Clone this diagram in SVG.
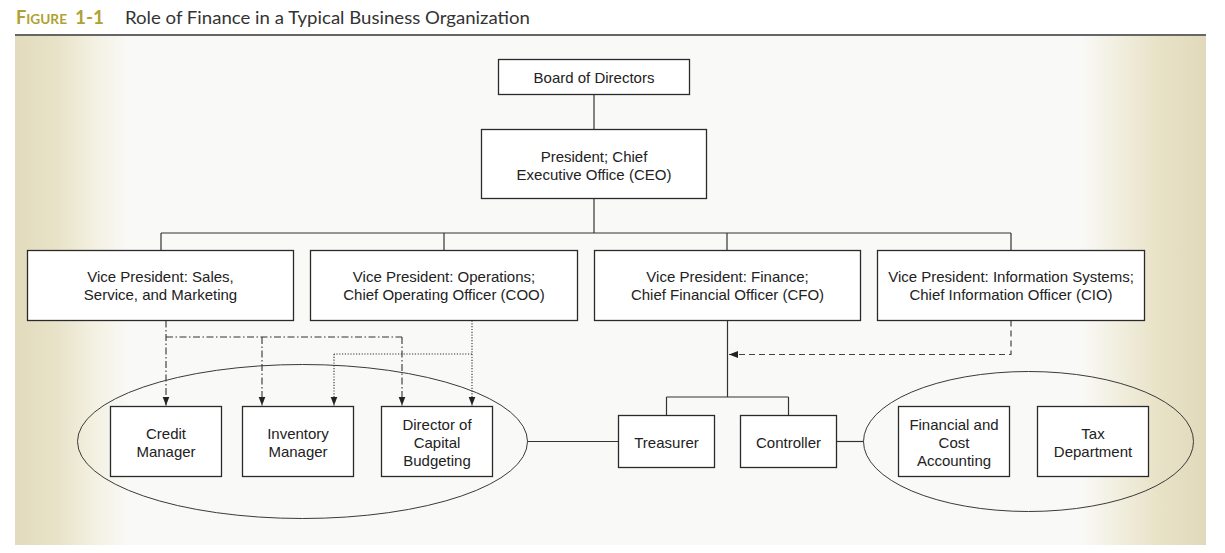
<svg xmlns="http://www.w3.org/2000/svg" width="1225" height="553" viewBox="0 0 1225 553">
  <defs>
    <linearGradient id="bg" x1="15" y1="0" x2="1206" y2="0" gradientUnits="userSpaceOnUse">
      <stop offset="0" stop-color="#e2dbbd"/>
      <stop offset="0.035" stop-color="#e8e2c8"/>
      <stop offset="0.065" stop-color="#f3f0e0"/>
      <stop offset="0.095" stop-color="#f9f9f7"/>
      <stop offset="0.895" stop-color="#f9f9f7"/>
      <stop offset="0.925" stop-color="#f2efe0"/>
      <stop offset="0.96" stop-color="#e8e2c7"/>
      <stop offset="1" stop-color="#e1d9bb"/>
    </linearGradient>
    <marker id="arr" markerUnits="userSpaceOnUse" markerWidth="10" markerHeight="8" refX="9" refY="3.5" orient="auto">
      <path d="M0,0 L9,3.5 L0,7 z" fill="#222"/>
    </marker>
    <style>
      .box { fill: #ffffff; stroke: #2a2a2a; stroke-width: 1.3; }
      .ell { fill: none; stroke: #3a3a3a; stroke-width: 1; }
      .lbl { font-family: "Liberation Sans", Arial, sans-serif; font-size: 15px; fill: #222; text-anchor: middle; }
      .solid { fill: none; stroke: #333; stroke-width: 1.2; }
      .dashdot { fill: none; stroke: #333; stroke-width: 1.1; stroke-dasharray: 7 2.5 1.5 2.5; }
      .dotted { fill: none; stroke: #333; stroke-width: 1.1; stroke-dasharray: 1.2 1.6; }
      .dashed { fill: none; stroke: #444; stroke-width: 1.2; stroke-dasharray: 6 4; }
      .fig { font-family: Lato, "Open Sans", sans-serif; font-weight: bold; fill: #b0a134; }
      .title { font-family: Lato, "Open Sans", sans-serif; font-size: 17px; fill: #333; }
    </style>
  </defs>

  <rect x="0" y="0" width="1225" height="553" fill="#ffffff"/>
  <rect x="15" y="36" width="1191" height="509" fill="url(#bg)"/>
  <line x1="15" y1="35" x2="1206" y2="35" stroke="#333" stroke-width="1.6"/>

  <g id="title">
    <text x="16" y="24" class="fig" textLength="51" lengthAdjust="spacingAndGlyphs"><tspan font-size="18px">F</tspan><tspan font-size="13.5px">IGURE</tspan></text>
    <text x="75" y="24" class="fig" font-size="18.5px" textLength="29" lengthAdjust="spacingAndGlyphs">1-1</text>
    <text x="125" y="24" class="title" textLength="405" lengthAdjust="spacingAndGlyphs">Role of Finance in a Typical Business Organization</text>
  </g>

  <g id="connectors">
    <line class="solid" x1="594" y1="94.5" x2="594" y2="129.5"/>
    <line class="solid" x1="594" y1="198.5" x2="594" y2="233"/>
    <line class="solid" x1="161" y1="233" x2="1011" y2="233"/>
    <line class="solid" x1="161" y1="233" x2="161" y2="250.5"/>
    <line class="solid" x1="444" y1="233" x2="444" y2="250.5"/>
    <line class="solid" x1="727" y1="233" x2="727" y2="250.5"/>
    <line class="solid" x1="1011" y1="233" x2="1011" y2="250.5"/>

    <line class="dashdot" x1="166" y1="320.5" x2="166" y2="405.5" marker-end="url(#arr)"/>
    <line class="dashdot" x1="166" y1="337" x2="402" y2="337"/>
    <line class="dashdot" x1="262" y1="337" x2="262" y2="405.5" marker-end="url(#arr)"/>
    <line class="dashdot" x1="402" y1="337" x2="402" y2="405.5" marker-end="url(#arr)"/>

    <line class="dotted" x1="472" y1="320.5" x2="472" y2="405.5" marker-end="url(#arr)"/>
    <line class="dotted" x1="472" y1="354" x2="334" y2="354"/>
    <line class="dotted" x1="334" y1="354" x2="334" y2="405.5" marker-end="url(#arr)"/>

    <line class="solid" x1="727.5" y1="320.5" x2="727.5" y2="397"/>
    <line class="solid" x1="666.5" y1="397" x2="788.5" y2="397"/>
    <line class="solid" x1="666.5" y1="397" x2="666.5" y2="415.5"/>
    <line class="solid" x1="788.5" y1="397" x2="788.5" y2="415.5"/>

    <polyline class="dashed" points="1011,320.5 1011,354.5 729,354.5" marker-end="url(#arr)"/>

    <line class="solid" x1="527.5" y1="441.5" x2="618.5" y2="441.5"/>
    <line class="solid" x1="836.5" y1="441.5" x2="863.5" y2="441.5"/>
  </g>

  <g id="group-left">
    <ellipse class="ell" cx="302.5" cy="441.5" rx="225" ry="77"/>
  </g>
  <g id="group-right">
    <ellipse class="ell" cx="1028.5" cy="441.5" rx="165" ry="70"/>
  </g>

  <g id="board">
    <rect class="box" x="498.5" y="59.5" width="191" height="35"/>
    <text class="lbl" x="594" y="82.5">Board of Directors</text>
  </g>
  <g id="ceo">
    <rect class="box" x="481.5" y="129.5" width="225" height="69"/>
    <text class="lbl" x="594" y="161.5">President; Chief</text>
    <text class="lbl" x="594" y="179.5">Executive Office (CEO)</text>
  </g>
  <g id="vp-sales">
    <rect class="box" x="27.5" y="250.5" width="266" height="70"/>
    <text class="lbl" x="160.5" y="282">Vice President: Sales,</text>
    <text class="lbl" x="160.5" y="300">Service, and Marketing</text>
  </g>
  <g id="vp-ops">
    <rect class="box" x="310.5" y="250.5" width="267" height="70"/>
    <text class="lbl" x="444" y="282">Vice President: Operations;</text>
    <text class="lbl" x="444" y="300">Chief Operating Officer (COO)</text>
  </g>
  <g id="vp-fin">
    <rect class="box" x="594.5" y="250.5" width="266" height="70"/>
    <text class="lbl" x="727.5" y="282">Vice President: Finance;</text>
    <text class="lbl" x="727.5" y="300">Chief Financial Officer (CFO)</text>
  </g>
  <g id="vp-is">
    <rect class="box" x="877.5" y="250.5" width="267" height="70"/>
    <text class="lbl" x="1011" y="282">Vice President: Information Systems;</text>
    <text class="lbl" x="1011" y="300">Chief Information Officer (CIO)</text>
  </g>
  <g id="credit">
    <rect class="box" x="110.5" y="406.5" width="111" height="70"/>
    <text class="lbl" x="166" y="438.5">Credit</text>
    <text class="lbl" x="166" y="456.5">Manager</text>
  </g>
  <g id="inventory">
    <rect class="box" x="242.5" y="406.5" width="111" height="70"/>
    <text class="lbl" x="298" y="438.5">Inventory</text>
    <text class="lbl" x="298" y="456.5">Manager</text>
  </g>
  <g id="capital">
    <rect class="box" x="381.5" y="406.5" width="111" height="70"/>
    <text class="lbl" x="437" y="429.5">Director of</text>
    <text class="lbl" x="437" y="447.5">Capital</text>
    <text class="lbl" x="437" y="465.5">Budgeting</text>
  </g>
  <g id="treasurer">
    <rect class="box" x="618.5" y="415.5" width="96" height="52"/>
    <text class="lbl" x="666.5" y="447.5">Treasurer</text>
  </g>
  <g id="controller">
    <rect class="box" x="740.5" y="415.5" width="96" height="52"/>
    <text class="lbl" x="788.5" y="447.5">Controller</text>
  </g>
  <g id="fincost">
    <rect class="box" x="898.5" y="406.5" width="111" height="70"/>
    <text class="lbl" x="954" y="429.5">Financial and</text>
    <text class="lbl" x="954" y="447.5">Cost</text>
    <text class="lbl" x="954" y="465.5">Accounting</text>
  </g>
  <g id="tax">
    <rect class="box" x="1037.5" y="406.5" width="111" height="70"/>
    <text class="lbl" x="1093" y="438.5">Tax</text>
    <text class="lbl" x="1093" y="456.5">Department</text>
  </g>
</svg>
